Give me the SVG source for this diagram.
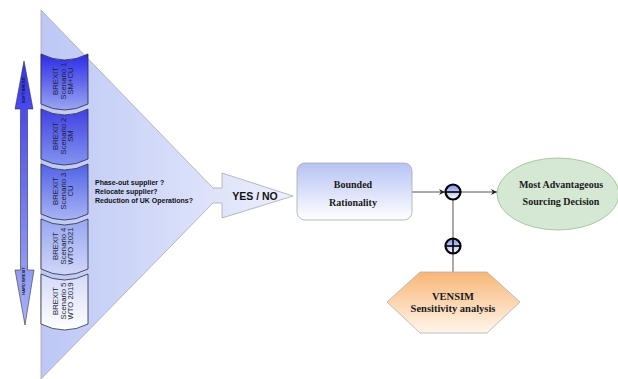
<svg xmlns="http://www.w3.org/2000/svg" width="618" height="379" viewBox="0 0 618 379">
<defs>
<linearGradient id="gTri" x1="0" y1="0" x2="1" y2="0"><stop offset="0" stop-color="#bcc7f5"/><stop offset="1" stop-color="#eef0fc"/></linearGradient>
<linearGradient id="gDA" x1="0" y1="0" x2="0" y2="1"><stop offset="0" stop-color="#3333ee"/><stop offset="1" stop-color="#a9b5f4"/></linearGradient>
<linearGradient id="g1" x1="0" y1="0" x2="0" y2="1"><stop offset="0" stop-color="#2b2be6"/><stop offset="1" stop-color="#9aa6f2"/></linearGradient>
<linearGradient id="g2" x1="0" y1="0" x2="0" y2="1"><stop offset="0" stop-color="#4040e2"/><stop offset="1" stop-color="#8494f0"/></linearGradient>
<linearGradient id="g3" x1="0" y1="0" x2="0" y2="1"><stop offset="0" stop-color="#5262e8"/><stop offset="1" stop-color="#a8b4f4"/></linearGradient>
<linearGradient id="g4" x1="0" y1="0" x2="0" y2="1"><stop offset="0" stop-color="#98a6f0"/><stop offset="1" stop-color="#d0d7f9"/></linearGradient>
<linearGradient id="g5" x1="0" y1="0" x2="0" y2="1"><stop offset="0" stop-color="#d4daf9"/><stop offset="1" stop-color="#ffffff"/></linearGradient>
<linearGradient id="gBox" x1="0" y1="0" x2="0" y2="1"><stop offset="0" stop-color="#b6c2f4"/><stop offset="1" stop-color="#ffffff"/></linearGradient>
<linearGradient id="gCirc" x1="0" y1="0" x2="0" y2="1"><stop offset="0" stop-color="#7f92ee"/><stop offset="1" stop-color="#ffffff"/></linearGradient>
<linearGradient id="gHex" x1="0" y1="0" x2="0" y2="1"><stop offset="0" stop-color="#f9b677"/><stop offset="1" stop-color="#fff6ec"/></linearGradient>
<marker id="arr" viewBox="0 0 10 10" refX="10" refY="5" markerWidth="6" markerHeight="6" orient="auto" markerUnits="userSpaceOnUse"><path d="M0,0 L10,5 L0,10 L3,5 z" fill="#222"/></marker>
</defs>
<style>
.blk{stroke:#2a2a3a;stroke-width:0.8}
.bt{font-family:"Liberation Sans",Arial,sans-serif;font-size:7.7px;fill:#1c1c3a;text-anchor:middle}
.q{font-family:"Liberation Sans",Arial,sans-serif;font-size:7px;font-weight:bold;fill:#111}
.sf{font-family:"Liberation Serif","Times New Roman",serif;font-weight:bold;fill:#1a1a1a;text-anchor:middle}
.con{stroke:#555;stroke-width:1;fill:none}
.op{stroke:#000;stroke-width:2.2;fill:url(#gCirc)}
.ax{font-family:"Liberation Sans",Arial,sans-serif;font-size:4px;font-weight:bold;fill:#111;text-anchor:middle}
</style>

<g id="funnel">
<path d="M41,10 L213,188 L222,188 L222,173 L293,196 L222,218 L222,203 L213,203 L41,379 Z" fill="url(#gTri)" stroke="#a8a8b0" stroke-width="0.8"/>
<text x="255" y="200" font-family="Liberation Sans,Arial,sans-serif" font-size="10.5" font-weight="bold" fill="#111" text-anchor="middle">YES / NO</text>
<text class="q" x="95" y="185">Phase-out supplier ?</text>
<text class="q" x="95" y="194">Relocate supplier?</text>
<text class="q" x="95" y="203">Reduction of UK Operations?</text>
</g>

<g id="brexit-axis">
<path d="M24,61 L33,109 L27.5,109 L27.5,270 L34,270 L25,325 L15,270 L20.5,270 L20.5,109 L15,109 Z" fill="url(#gDA)" stroke="#333" stroke-width="0.6"/>
<text class="ax" transform="translate(25.4,90) rotate(-90)">SOFT BREXIT</text>
<text class="ax" transform="translate(25.4,281) rotate(-90)">HARD BREXIT</text>
</g>

<g id="scenario1">
<path class="blk" d="M41,54 Q64.5,66 88,54 L88,104 Q64.5,116 41,104 Z" fill="url(#g1)"/>
<text class="bt" transform="translate(64.5,81) rotate(-90)"><tspan x="0" y="-6.5">BREXIT</tspan><tspan x="0" y="1.2">Scenario 1</tspan><tspan x="0" y="8.9">SM+CU</tspan></text>
</g>
<g id="scenario2">
<path class="blk" d="M41,109 Q64.5,121 88,109 L88,159 Q64.5,171 41,159 Z" fill="url(#g2)"/>
<text class="bt" transform="translate(64.5,136) rotate(-90)"><tspan x="0" y="-6.5">BREXIT</tspan><tspan x="0" y="1.2">Scenario 2</tspan><tspan x="0" y="8.9">SM</tspan></text>
</g>
<g id="scenario3">
<path class="blk" d="M41,164 Q64.5,176 88,164 L88,214 Q64.5,226 41,214 Z" fill="url(#g3)"/>
<text class="bt" transform="translate(64.5,191) rotate(-90)"><tspan x="0" y="-6.5">BREXIT</tspan><tspan x="0" y="1.2">Scenario 3</tspan><tspan x="0" y="8.9">CU</tspan></text>
</g>
<g id="scenario4">
<path class="blk" d="M41,219 Q64.5,231 88,219 L88,269 Q64.5,281 41,269 Z" fill="url(#g4)"/>
<text class="bt" transform="translate(64.5,246) rotate(-90)"><tspan x="0" y="-6.5">BREXIT</tspan><tspan x="0" y="1.2">Scenario 4</tspan><tspan x="0" y="8.9">WTO 2021</tspan></text>
</g>
<g id="scenario5">
<path class="blk" d="M41,274 Q64.5,286 88,274 L88,324 Q64.5,336 41,324 Z" fill="url(#g5)"/>
<text class="bt" transform="translate(64.5,301) rotate(-90)"><tspan x="0" y="-6.5">BREXIT</tspan><tspan x="0" y="1.2">Scenario 5</tspan><tspan x="0" y="8.9">WTO 2019</tspan></text>
</g>

<g id="connectors">
<line class="con" x1="412" y1="192" x2="445" y2="192" marker-end="url(#arr)"/>
<line class="con" x1="461" y1="192" x2="497" y2="192" marker-end="url(#arr)"/>
<line class="con" x1="453" y1="200" x2="453" y2="238"/>
<line class="con" x1="453" y1="254" x2="453" y2="272"/>
</g>

<g id="bounded">
<rect x="297" y="163" width="115" height="57" rx="8" fill="url(#gBox)" stroke="#a8a8b0" stroke-width="0.8"/>
<text class="sf" x="353" y="188" font-size="10">Bounded</text>
<text class="sf" x="353" y="206" font-size="10">Rationality</text>
</g>

<g id="minus">
<circle class="op" cx="453" cy="192" r="7.5"/>
<line x1="445.5" y1="192" x2="460.5" y2="192" stroke="#000" stroke-width="1.6"/>
</g>

<g id="plus">
<circle class="op" cx="453" cy="246" r="7.5"/>
<line x1="445.5" y1="246" x2="460.5" y2="246" stroke="#000" stroke-width="1.6"/>
<line x1="453" y1="238.5" x2="453" y2="253.5" stroke="#000" stroke-width="1.6"/>
</g>

<g id="decision">
<ellipse cx="558" cy="194" rx="61" ry="36" fill="#d5e8d4" stroke="#9cbb8e" stroke-width="0.8"/>
<text class="sf" x="561" y="188" font-size="10">Most Advantageous</text>
<text class="sf" x="561" y="205" font-size="10">Sourcing Decision</text>
</g>

<g id="vensim">
<path d="M420,272 L487,272 L520,302 L487,333 L420,333 L387,302 Z" fill="url(#gHex)" stroke="#b0b0b0" stroke-width="0.8"/>
<text class="sf" x="453" y="300" font-size="10.5">VENSIM</text>
<text class="sf" x="453" y="312" font-size="10.5">Sensitivity analysis</text>
</g>
</svg>
